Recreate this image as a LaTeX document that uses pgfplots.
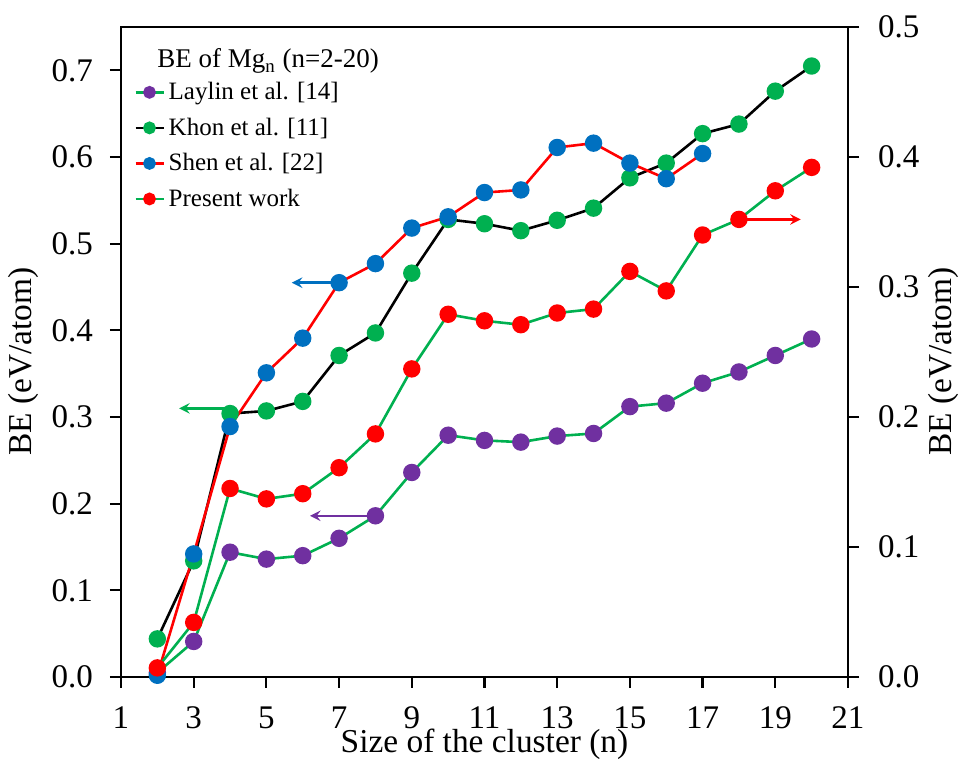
\documentclass[border=0pt]{standalone}
\usepackage{pgfplots}
\pgfplotsset{compat=1.18}
\usepackage{fontspec}
\setmainfont{Liberation Serif}
\definecolor{cpurple}{RGB}{112,48,160}
\definecolor{cgreen}{RGB}{0,176,80}
\definecolor{cblue}{RGB}{0,112,192}
\definecolor{cred}{RGB}{255,0,0}
\pgfplotsset{
  common/.style={
    width=363.5pt, height=325pt, scale only axis,
    xmin=1, xmax=21,
    tick align=outside,
    major tick length=5.5pt,
    /pgf/number format/assume math mode=true,
    tick label style={font=\fontsize{16.5}{18}\selectfont},
    label style={font=\fontsize{16.7}{19}\selectfont},
    every tick/.style={black, line width=1.1pt},
  },
}
\begin{document}
\begin{tikzpicture}
\path[use as bounding box] (-60.5pt,-41.5pt) rectangle (419.5pt,338.5pt);
\begin{axis}[common,
  axis line style={line width=1.3pt},
  ymin=0, ymax=0.75,
  xtick={1,3,...,21},
  ytick={0,0.1,...,0.7},
  xtick pos=bottom, ytick pos=left,
  yticklabel style={xshift=-5pt, /pgf/number format/.cd, fixed, fixed zerofill, precision=1},
  xticklabel style={inner sep=0pt, yshift=-9pt},
  xlabel={Size of the cluster (n)},
  ylabel={BE (eV/atom)},
  xlabel style={at={(axis description cs:0.5,0)}, anchor=base, inner sep=0pt, text height=10pt, yshift=-38pt},
  ylabel style={at={(axis description cs:-0.1348,0.485)}, anchor=center},
  legend style={at={(rel axis cs:0.015,0.925)}, anchor=north west, draw=none, fill=none,
    font=\fontsize{12.5}{15}\selectfont, row sep=3.6pt, inner sep=1pt},
  legend cell align=left,
  legend image code/.code={\draw[mark repeat=2,mark phase=2,line width=1.2pt,mark size=2.6pt] plot coordinates {(0pt,0pt)(7pt,0pt)(14pt,0pt)};},
]
% Laylin et al.
\addplot[cgreen, line width=1.3pt, mark=*, mark size=3.7pt, mark options={fill=cpurple, draw=cpurple}] coordinates {
(2,0.005)(3,0.041)(4,0.144)(5,0.136)(6,0.140)(7,0.160)(8,0.186)(9,0.236)(10,0.279)(11,0.273)(12,0.271)(13,0.278)(14,0.281)(15,0.312)(16,0.316)(17,0.339)(18,0.352)(19,0.371)(20,0.390)};
\addlegendentry{Laylin et al. [14]}
% Khon et al.
\addplot[black, line width=1.3pt, mark=*, mark size=3.7pt, mark options={fill=cgreen, draw=cgreen}] coordinates {
(2,0.044)(3,0.134)(4,0.304)(5,0.307)(6,0.318)(7,0.371)(8,0.397)(9,0.466)(10,0.528)(11,0.523)(12,0.515)(13,0.527)(14,0.541)(15,0.576)(16,0.593)(17,0.627)(18,0.638)(19,0.676)(20,0.705)};
\addlegendentry{Khon et al. [11]}
% Shen et al.
\addplot[cred, line width=1.3pt, mark=*, mark size=3.7pt, mark options={fill=cblue, draw=cblue}] coordinates {
(2,0.002)(3,0.142)(4,0.289)(5,0.351)(6,0.391)(7,0.455)(8,0.477)(9,0.518)(10,0.531)(11,0.559)(12,0.562)(13,0.611)(14,0.616)(15,0.593)(16,0.575)(17,0.604)};
\addlegendentry{Shen et al. [22]}
\addlegendimage{cgreen, line width=1.3pt, mark=*, mark size=3.7pt, mark options={fill=cred, draw=cred}}
\addlegendentry{Present work}
% arrows (left axis)
\draw[-stealth, cgreen, line width=1.3pt] (axis cs:3.9,0.31) -- (axis cs:2.6,0.31);
\draw[-stealth, cpurple, line width=1.3pt] (axis cs:7.9,0.186) -- (axis cs:6.2,0.186);
\draw[-stealth, cblue, line width=1.3pt] (axis cs:6.9,0.455) -- (axis cs:5.7,0.455);
\node[anchor=base west, font=\fontsize{13.5}{15}\selectfont, inner sep=0pt] at (rel axis cs:0.0495,0.937) {BE of Mg\textsubscript{n} (n=2-20)};
\end{axis}
\begin{axis}[common,
  axis x line=none,
  axis y line*=right,
  axis line style={line width=1.3pt},
  ymin=0, ymax=0.5,
  ytick={0,0.1,...,0.5},
  yticklabel style={xshift=6pt, /pgf/number format/.cd, fixed, fixed zerofill, precision=1},
  ylabel={BE (eV/atom)},
  ylabel style={at={(axis description cs:1.1307,0.485)}, anchor=center},
]
\addplot[cgreen, line width=1.3pt, mark=*, mark size=3.7pt, mark options={fill=cred, draw=cred}] coordinates {
(2,0.007)(3,0.042)(4,0.145)(5,0.137)(6,0.141)(7,0.161)(8,0.187)(9,0.237)(10,0.279)(11,0.274)(12,0.271)(13,0.280)(14,0.283)(15,0.312)(16,0.297)(17,0.340)(18,0.352)(19,0.374)(20,0.392)};
\draw[-stealth, cred, line width=1.3pt] (axis cs:18.1,0.352) -- (axis cs:19.7,0.352);
\end{axis}
\end{tikzpicture}
\end{document}
